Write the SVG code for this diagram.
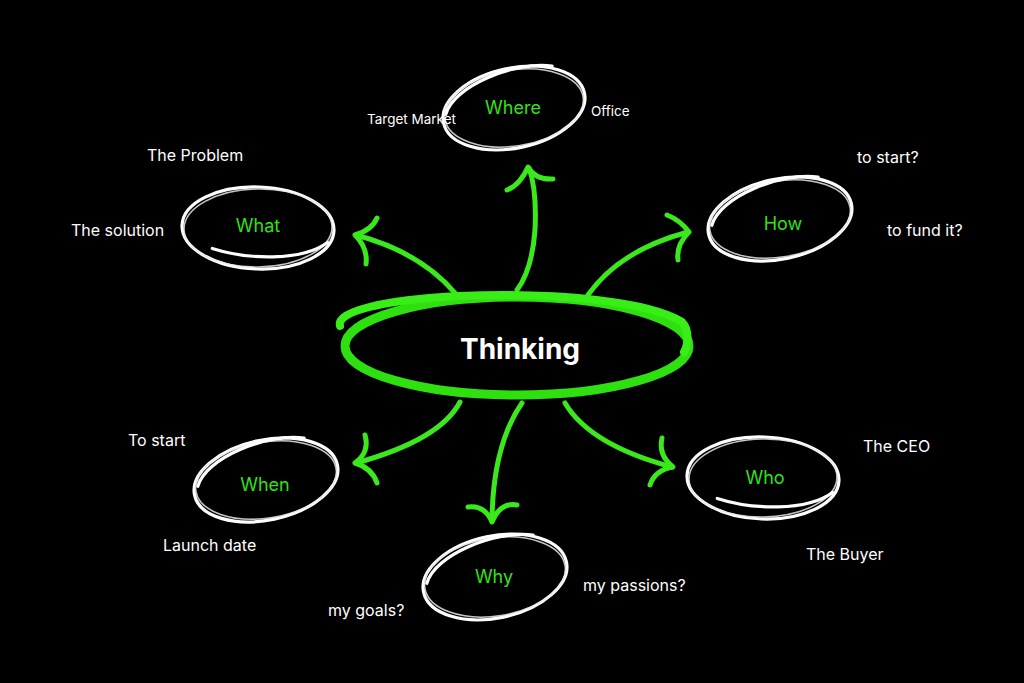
<svg xmlns="http://www.w3.org/2000/svg" width="1024" height="683" viewBox="0 0 1024 683">
<style>
.sk{fill:none;stroke:#ffffff;stroke-width:3.2;stroke-linecap:round}
.sk2{fill:none;stroke:#e8e8e8;stroke-width:1.6;stroke-linecap:round;opacity:0.85}
.arr{fill:none;stroke:#3ae81c;stroke-width:5;stroke-linecap:round;stroke-linejoin:round}
.lbl{font-family:Inter,"Liberation Sans",sans-serif;font-size:16px;fill:#ffffff}
.sm{font-size:13.5px}
.key{font-family:Inter,"Liberation Sans",sans-serif;font-size:18px;fill:#33e01a;text-anchor:middle}
</style>
<rect width="1024" height="683" fill="#000000"/>

<g id="connectors">
  <!-- What -->
  <path class="arr" d="M455,293 Q420,252 356,235"/>
  <path class="arr" d="M377,218 Q372,230 355,235 Q368,248 366,264"/>
  <!-- Where -->
  <path class="arr" d="M517,290 Q532,270 535,230 Q537,190 529,168"/>
  <path class="arr" d="M507,190 Q520,185 528,167 Q535,180 553,179"/>
  <!-- How -->
  <path class="arr" d="M588,295 Q620,250 688,232"/>
  <path class="arr" d="M667,215 Q680,220 689,232 Q676,245 678,260"/>
  <!-- When -->
  <path class="arr" d="M460,402 Q440,440 356,463"/>
  <path class="arr" d="M365,435 Q370,452 355,463 Q372,468 377,483"/>
  <!-- Why -->
  <path class="arr" d="M522,403 Q493,445 492,520"/>
  <path class="arr" d="M468,507 Q485,505 492,522 Q500,502 517,505"/>
  <!-- Who -->
  <path class="arr" d="M565,403 Q590,445 672,467"/>
  <path class="arr" d="M662,438 Q658,455 673,467 Q655,470 650,485"/>
</g>

<g id="node-thinking">
  <ellipse cx="517" cy="346" rx="172" ry="49" fill="none" stroke="#2fe010" stroke-width="9"/>
  <path d="M340,326 C336,312 380,300 460,296 C560,292 650,302 682,322 C690,330 688,345 684,352" fill="none" stroke="#39ee16" stroke-width="8" stroke-linecap="round"/>
  <text x="520" y="359" text-anchor="middle" font-family="Inter,'Liberation Sans',sans-serif" font-size="28" font-weight="700" fill="#ffffff">Thinking</text>
</g>

<g id="node-where">
  <g transform="translate(514,108) rotate(-12)">
    <ellipse rx="72" ry="40" class="sk"/>
    <ellipse rx="70" ry="38" class="sk2" transform="rotate(3)"/>
    <path class="sk" d="M-68,-8 C-55,-34 10,-46 46,-33"/>
  </g>
  <text class="key" x="513" y="114">Where</text>
</g>

<g id="node-what">
  <g transform="translate(258,228) rotate(2)">
    <ellipse rx="76" ry="41" class="sk"/>
    <ellipse rx="74" ry="39" class="sk2" transform="rotate(-3)"/>
    <path class="sk" d="M-45,22 C-10,32 45,32 70,12"/>
  </g>
  <text class="key" x="258" y="232">What</text>
</g>

<g id="node-how">
  <g transform="translate(780,219) rotate(-12)">
    <ellipse rx="73" ry="40" class="sk"/>
    <ellipse rx="71" ry="38" class="sk2" transform="rotate(3)"/>
    <path class="sk" d="M-68,-8 C-55,-34 10,-46 46,-33"/>
  </g>
  <text class="key" x="783" y="230">How</text>
</g>

<g id="node-when">
  <g transform="translate(266,480) rotate(-12)">
    <ellipse rx="73" ry="40" class="sk"/>
    <ellipse rx="71" ry="38" class="sk2" transform="rotate(3)"/>
    <path class="sk" d="M-68,-8 C-55,-34 10,-46 46,-33"/>
  </g>
  <text class="key" x="265" y="491">When</text>
</g>

<g id="node-who">
  <g transform="translate(763,478) rotate(2)">
    <ellipse rx="76" ry="41" class="sk"/>
    <ellipse rx="74" ry="39" class="sk2" transform="rotate(-3)"/>
    <path class="sk" d="M-45,22 C-10,32 45,32 70,12"/>
  </g>
  <text class="key" x="765" y="484">Who</text>
</g>

<g id="node-why">
  <g transform="translate(495,577) rotate(-12)">
    <ellipse rx="73" ry="41" class="sk"/>
    <ellipse rx="71" ry="39" class="sk2" transform="rotate(3)"/>
    <path class="sk" d="M-68,-8 C-55,-34 10,-46 46,-33"/>
  </g>
  <text class="key" x="494" y="583">Why</text>
</g>

<g id="labels">
  <text class="lbl sm" x="367" y="124">Target Market</text>
  <text class="lbl sm" x="591" y="116">Office</text>
  <text class="lbl" x="147" y="161">The Problem</text>
  <text class="lbl" x="71" y="236">The solution</text>
  <text class="lbl" x="857" y="163">to start?</text>
  <text class="lbl" x="887" y="236">to fund it?</text>
  <text class="lbl" x="128" y="446">To start</text>
  <text class="lbl" x="163" y="551">Launch date</text>
  <text class="lbl" x="863" y="452">The CEO</text>
  <text class="lbl" x="806" y="560">The Buyer</text>
  <text class="lbl" x="583" y="591">my passions?</text>
  <text class="lbl" x="328" y="616">my goals?</text>
</g>
</svg>
